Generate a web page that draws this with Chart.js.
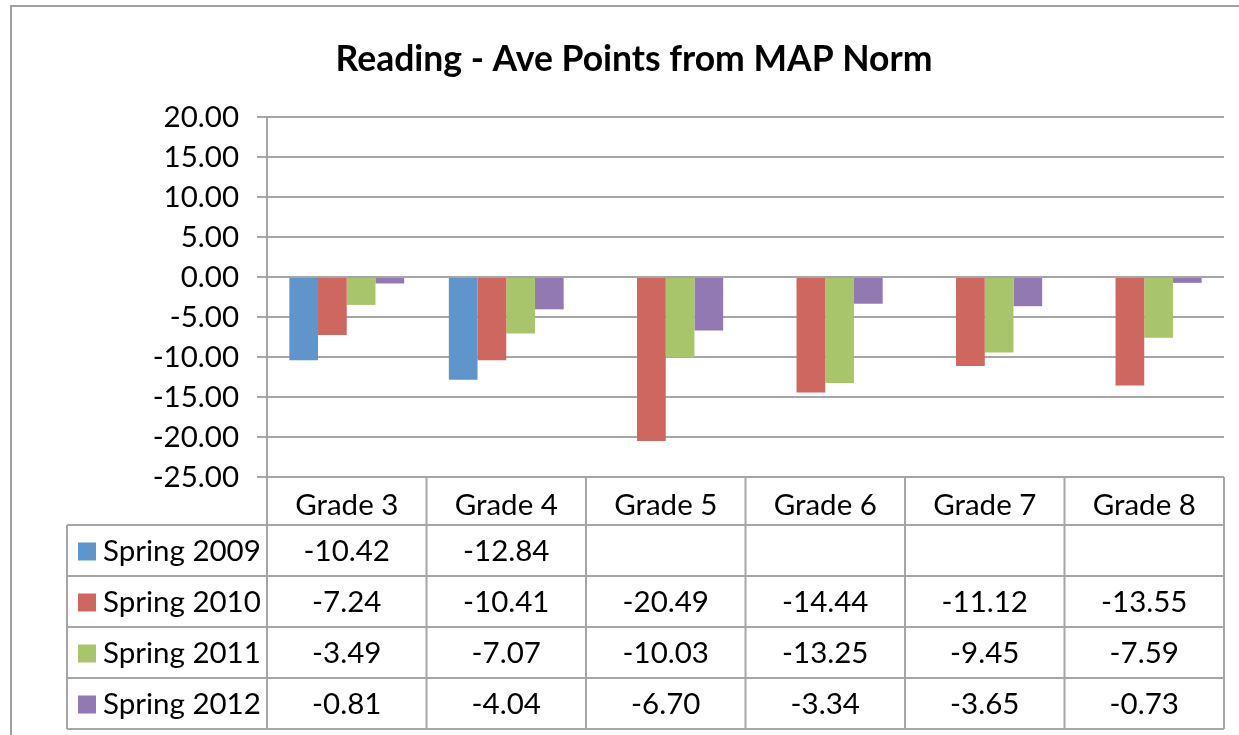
<!DOCTYPE html>
<html>
<head>
<meta charset="utf-8">
<script src="https://cdn.jsdelivr.net/npm/chart.js@4/dist/chart.umd.min.js"></script>
<style>
  html, body { margin: 0; padding: 0; background: #fff; }
  #wrap { width: 1239px; height: 735px; position: relative; }
</style>
</head>
<body>
<div id="wrap"><canvas id="myChart"></canvas></div>
<script>
const grades = ["Grade 3", "Grade 4", "Grade 5", "Grade 6", "Grade 7", "Grade 8"];
const seriesNames = ["Spring 2009", "Spring 2010", "Spring 2011", "Spring 2012"];
const spring2009 = [-10.42, -12.84, null, null, null, null];
const spring2010 = [-7.24, -10.41, -20.49, -14.44, -11.12, -13.55];
const spring2011 = [-3.49, -7.07, -10.03, -13.25, -9.45, -7.59];
const spring2012 = [-0.81, -4.04, -6.70, -3.34, -3.65, -0.73];
const titleText = "Reading - Ave Points from MAP Norm";

const seriesColors = ["#5F95CB", "#CD6760", "#A9C56B", "#9279B1"];
const lineColor = "#a6a6a6";
const fontFamily = "Lato, 'Open Sans', sans-serif";

const allSeries = [spring2009, spring2010, spring2011, spring2012];

// title, outer frame and data table drawn around the chart
const extrasPlugin = {
  id: "extras",
  afterDraw(chart) {
    const ctx = chart.ctx;
    const area = chart.chartArea;
    const x = chart.scales.x;
    const colW = (area.right - area.left) / grades.length;
    const headerH = 48;
    const rowH = 51;
    const tableLeft = 67;

    ctx.save();
    // outer frame
    ctx.strokeStyle = "#a0a0a0";
    ctx.lineWidth = 2;
    ctx.strokeRect(11, 6, 1400, 900);

    // title
    ctx.fillStyle = "#000";
    ctx.font = "bold 35.5px " + fontFamily;
    ctx.textAlign = "center";
    ctx.textBaseline = "middle";
    ctx.fillText(titleText, 634, 60);

    // table lines
    ctx.strokeStyle = lineColor;
    ctx.lineWidth = 2;
    const top = area.bottom;
    const bottom = top + headerH + rowH * seriesNames.length;
    ctx.beginPath();
    ctx.moveTo(area.left, top); ctx.lineTo(area.right, top);
    for (let r = 0; r <= seriesNames.length; r++) {
      const y = top + headerH + rowH * r;
      ctx.moveTo(tableLeft, y); ctx.lineTo(area.right, y);
    }
    ctx.moveTo(tableLeft, top + headerH); ctx.lineTo(tableLeft, bottom);
    for (let c = 0; c <= grades.length; c++) {
      const xx = area.left + colW * c;
      ctx.moveTo(xx, top); ctx.lineTo(xx, bottom);
    }
    ctx.stroke();

    // header text
    ctx.font = "29.5px " + fontFamily;
    ctx.fillStyle = "#000";
    grades.forEach((g, i) => {
      ctx.fillText(g, x.getPixelForValue(i), top + headerH / 2 + 4);
    });

    // rows
    seriesNames.forEach((name, r) => {
      const cy = top + headerH + rowH * r + rowH / 2 + 1;
      ctx.fillStyle = seriesColors[r];
      ctx.fillRect(78, cy - 9, 18, 18);
      ctx.fillStyle = "#000";
      ctx.textAlign = "left";
      ctx.fillText(name, 103, cy);
      ctx.textAlign = "center";
      allSeries[r].forEach((v, i) => {
        if (v !== null) ctx.fillText(v.toFixed(2), x.getPixelForValue(i), cy);
      });
    });
    ctx.restore();
  }
};

const data = {
  labels: grades,
  datasets: seriesNames.map((name, i) => ({
    label: name,
    data: allSeries[i],
    backgroundColor: seriesColors[i],
    borderWidth: 0,
    categoryPercentage: 0.72,
    barPercentage: 1.0,
  })),
};

const config = {
  type: "bar",
  data: data,
  options: {
    responsive: true,
    maintainAspectRatio: false,
    animation: false,
    layout: {
      padding: { left: 0, top: 117, right: 15, bottom: 258 },
    },
    plugins: {
      legend: { display: false },
      title: { display: false },
      tooltip: { enabled: false },
    },
    scales: {
      x: {
        display: false,
      },
      y: {
        min: -25,
        max: 20,
        afterFit(scale) { scale.width = 267; },
        ticks: {
          stepSize: 5,
          color: "#000",
          padding: 18,
          font: { family: fontFamily, size: 29.5 },
          callback: (v) => Number(v).toFixed(2),
        },
        grid: {
          color: lineColor,
          lineWidth: 2,
          drawTicks: true,
          tickLength: 10,
        },
        border: { display: true, color: lineColor, width: 2 },
      },
    },
  },
  plugins: [extrasPlugin],
};

new Chart(document.getElementById("myChart"), config);
</script>
</body>
</html>
